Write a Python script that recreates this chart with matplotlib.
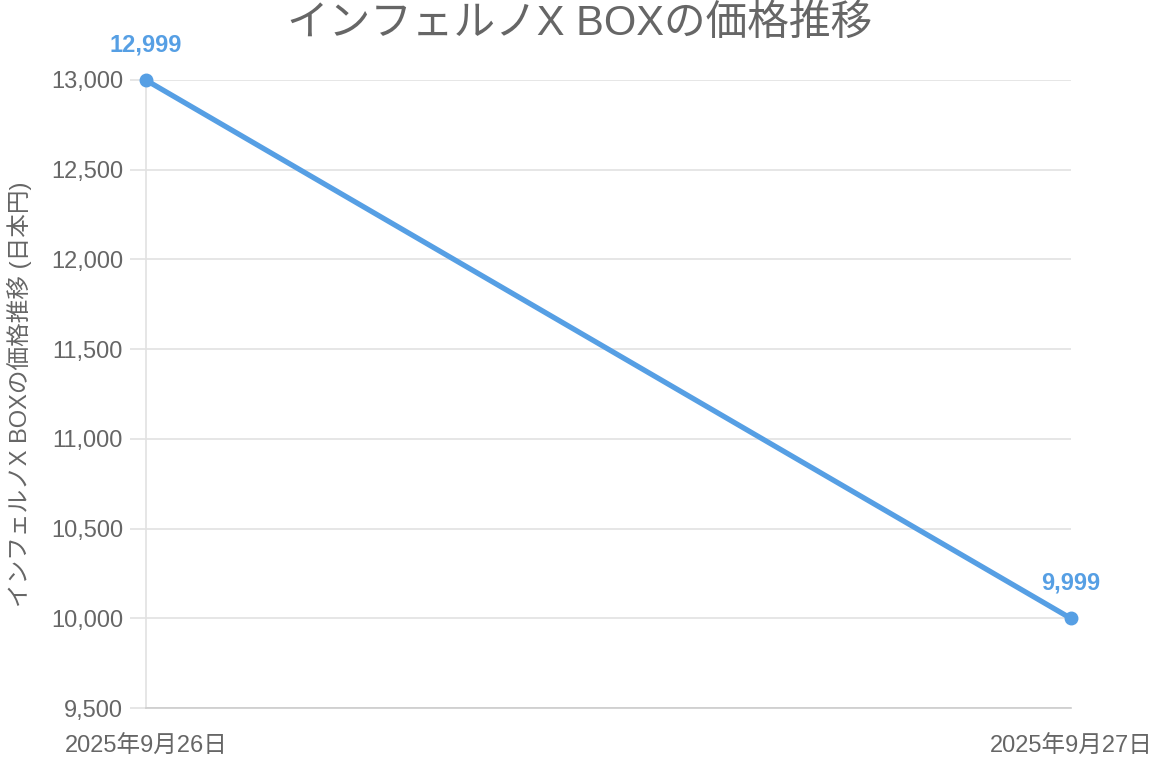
import matplotlib
matplotlib.use("Agg")
import matplotlib.pyplot as plt
from matplotlib.ticker import FuncFormatter

plt.rcParams['font.family'] = ['Liberation Sans', 'Noto Sans CJK JP', 'DejaVu Sans']

# data
dates = ["2025年9月26日", "2025年9月27日"]
prices = [12999, 9999]
y_ticks = [9500, 10000, 10500, 11000, 11500, 12000, 12500, 13000]

title = "インフェルノX BOXの価格推移"
y_label = "インフェルノX BOXの価格推移 (日本円)"

blue = "#569fe4"
grey = "#666666"
grid = "#e2e2e2"

fig = plt.figure(figsize=(11.6, 7.66), dpi=100)
ax = fig.add_axes([146 / 1160, 58 / 766, 925 / 1160, 628 / 766])

x = list(range(len(dates)))
ax.plot(x, prices, color=blue, linewidth=3.8, marker='o', markersize=9,
        solid_capstyle='round', zorder=3, clip_on=False)

for xi, p in zip(x, prices):
    ax.annotate(f"{p:,}", (xi, p), xytext=(0, 17), textcoords='offset points',
                ha='center', va='bottom', color=blue, fontsize=17,
                fontweight='bold')

ax.set_xlim(0, len(dates) - 1)
ax.set_ylim(y_ticks[0], y_ticks[-1])
ax.set_yticks(y_ticks)
ax.yaxis.set_major_formatter(FuncFormatter(lambda v, _: f"{int(v):,}"))
ax.set_xticks(x)
ax.set_xticklabels(dates)

ax.grid(axis='y', color=grid, linewidth=1.2)
ax.set_axisbelow(True)
for s in ['top', 'right']:
    ax.spines[s].set_visible(False)
ax.spines['left'].set_color(grid)
ax.spines['left'].set_linewidth(1.2)
ax.spines['bottom'].set_color("#cccccc")
ax.spines['bottom'].set_linewidth(1.2)

ax.tick_params(axis='y', length=11.5, width=1.2, color=grid, labelcolor=grey,
               labelsize=17, pad=5)
ax.tick_params(axis='x', length=0, labelcolor=grey, labelsize=17, pad=20)

ax.set_ylabel(y_label, color=grey, fontsize=17, labelpad=14)
fig.text(0.5, 0.969, title, ha='center', va='center', color=grey, fontsize=30)

fig.savefig("out.png", dpi=100)
